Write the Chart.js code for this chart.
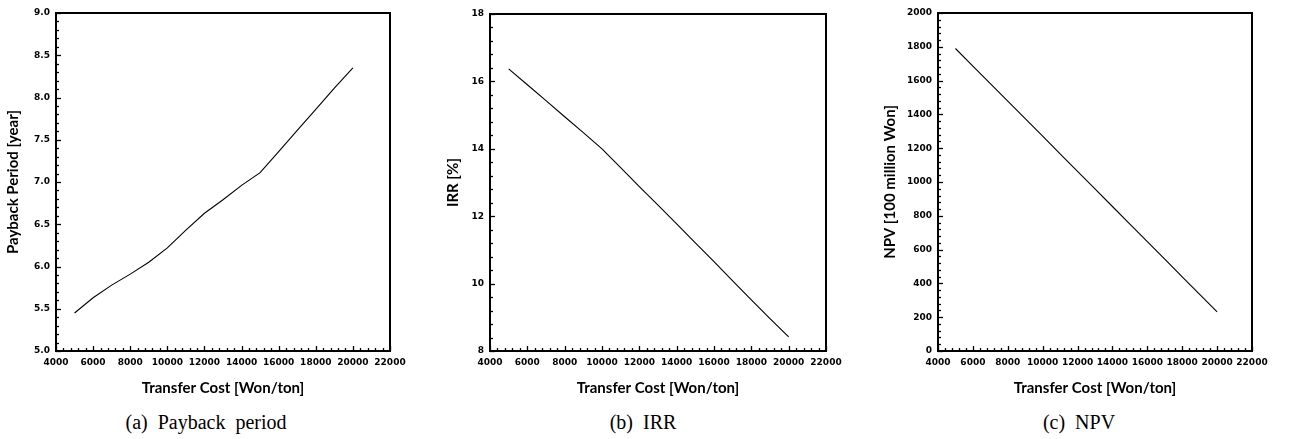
<!DOCTYPE html>
<html>
<head>
<meta charset="utf-8">
<script src="https://cdn.jsdelivr.net/npm/chart.js@4.4.0/dist/chart.umd.min.js"></script>
<style>
  html, body { margin: 0; padding: 0; background: #fff; }
  body { width: 1289px; height: 439px; position: relative; overflow: hidden; }
  .panel { position: absolute; top: 0; height: 400px; }
  .caption { position: absolute; top: 412px; font-family: "Liberation Serif", "Times New Roman", serif;
             font-size: 20px; line-height: 20px; white-space: pre; color: #000; transform: translateX(-50%); }
</style>
</head>
<body>
<div class="panel" style="left:0px;width:430px"><canvas id="cA"></canvas></div>
<div class="panel" style="left:430px;width:430px"><canvas id="cB"></canvas></div>
<div class="panel" style="left:860px;width:429px"><canvas id="cC"></canvas></div>
<div class="caption" style="left:206px">(a)  Payback  period</div>
<div class="caption" style="left:643px">(b)  IRR</div>
<div class="caption" style="left:1079px">(c)  NPV</div>
<script>
// ---- data ----
const transferCost = [5000, 6000, 7000, 8000, 9000, 10000, 11000, 12000, 13000, 14000, 15000, 16000, 17000, 18000, 19000, 20000];
const paybackPeriod = [5.45, 5.63, 5.78, 5.91, 6.05, 6.22, 6.43, 6.63, 6.79, 6.96, 7.11, 7.36, 7.61, 7.86, 8.11, 8.35];
const irr = [16.37, 15.90, 15.43, 14.95, 14.48, 14.00, 13.44, 12.88, 12.33, 11.77, 11.21, 10.65, 10.08, 9.52, 8.96, 8.42];
const npv = [1790, 1686, 1582, 1479, 1375, 1271, 1167, 1063, 959, 855, 751, 647, 543, 439, 335, 232];

const xTickLabels = [4000, 6000, 8000, 10000, 12000, 14000, 16000, 18000, 20000, 22000];
const xTitle = 'Transfer Cost [Won/ton]';
const captions = ['(a)  Payback  period', '(b)  IRR', '(c)  NPV'];

// inward ticks + frame plugin
const framePlugin = {
  id: 'frame',
  afterDraw(chart, args, opts) {
    const {ctx, chartArea: a, scales: {x, y}} = chart;
    ctx.save();
    ctx.strokeStyle = '#000';
    ctx.lineWidth = 1.3;
    const drawTicks = (scale, step, isX) => {
      const min = scale.min, max = scale.max;
      const n = Math.round((max - min) / step);
      for (let i = 0; i <= n; i++) {
        const v = min + i * step;
        const major = i % 5 === 0;
        const len = major ? 5 : 3;
        const p = Math.round(scale.getPixelForValue(v)) + 0.5;
        ctx.beginPath();
        if (isX) { ctx.moveTo(p, a.bottom); ctx.lineTo(p, a.bottom - len); }
        else { ctx.moveTo(a.left, p); ctx.lineTo(a.left + len, p); }
        ctx.stroke();
      }
    };
    drawTicks(x, opts.xMinor, true);
    drawTicks(y, opts.yMinor, false);
    ctx.lineWidth = 2;
    ctx.strokeRect(a.left, a.top, a.right - a.left, a.bottom - a.top);
    ctx.restore();
  }
};

function makeChart(id, values, yMin, yMax, yStep, yMinor, yTitle, fmt, box) {
  const yTitlePad = box.yTitleCenter - 8.4;
  return new Chart(document.getElementById(id), {
    type: 'line',
    data: {
      datasets: [{
        data: transferCost.map((c, i) => ({x: c, y: values[i]})),
        borderColor: '#000', borderWidth: 1.1, pointRadius: 0, tension: 0, fill: false
      }]
    },
    options: {
      responsive: false, animation: false, devicePixelRatio: 1,
      layout: { padding: { left: 0, right: box.right, top: box.top, bottom: 0 } },
      plugins: { legend: { display: false }, tooltip: { enabled: false },
                 frame: { xMinor: 400, yMinor: yMinor } },
      scales: {
        x: {
          type: 'linear', min: 4000, max: 22000,
          afterBuildTicks: s => { s.ticks = xTickLabels.map(v => ({value: v})); },
          afterFit: s => { s.height = 49; },
          grid: { display: false, drawTicks: false }, border: { display: false },
          ticks: { color: '#000', padding: 6, maxRotation: 0, autoSkip: false,
                   font: { family: 'DejaVu Sans', weight: 'bold', size: 9 },
                   callback: v => String(v) },
          title: { display: true, text: xTitle, color: '#000',
                   font: { family: 'Lato', weight: 'bold', size: 15 }, padding: { top: 0, bottom: 3 } }
        },
        y: {
          type: 'linear', min: yMin, max: yMax,
          ticks: { stepSize: yStep, color: '#000', padding: 6,
                   font: { family: 'DejaVu Sans', weight: 'bold', size: 9 },
                   callback: v => fmt(v) },
          afterFit: s => { s.width = box.left; },
          grid: { display: false, drawTicks: false }, border: { display: false },
          title: { display: true, text: yTitle, color: '#000',
                   font: { family: 'Lato', weight: 'bold', size: 15 }, padding: { top: yTitlePad, bottom: 0 } }
        }
      }
    },
    plugins: [framePlugin]
  });
}

function sizeCanvas(id, w) { const c = document.getElementById(id); c.width = w; c.height = 400; c.style.width = w + 'px'; c.style.height = '400px'; }
sizeCanvas('cA', 430); sizeCanvas('cB', 430); sizeCanvas('cC', 429);

makeChart('cA', paybackPeriod, 5, 9, 0.5, 0.1, 'Payback Period [year]', v => v.toFixed(1),
          { left: 56, right: 40, top: 13, yTitleCenter: 13 });
makeChart('cB', irr, 8, 18, 2, 0.4, 'IRR [%]', v => String(v),
          { left: 60, right: 34, top: 14, yTitleCenter: 23 });
makeChart('cC', npv, 0, 2000, 200, 40, 'NPV [100 million Won]', v => String(v),
          { left: 78, right: 37, top: 13, yTitleCenter: 30 });
</script>
</body>
</html>
